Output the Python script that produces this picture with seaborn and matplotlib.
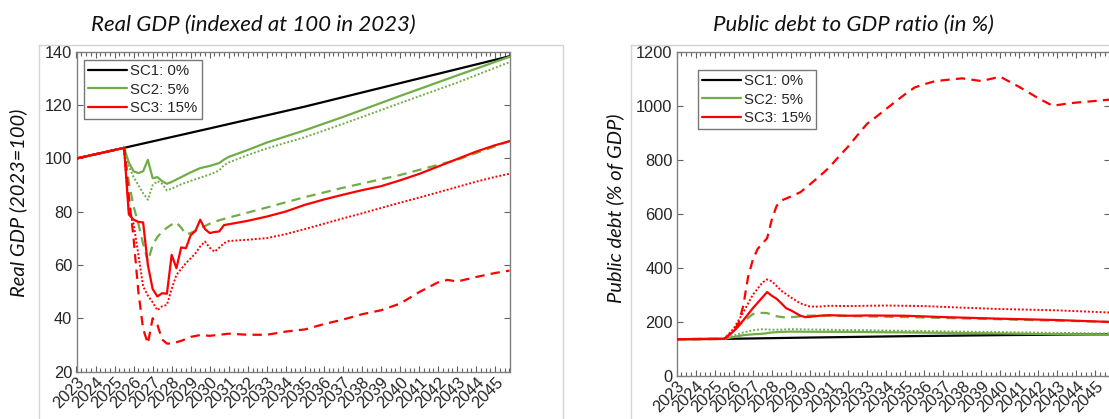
# plot.py - two-panel scenario chart (Real GDP / public debt ratio)

import numpy as np
import pandas as pd
import matplotlib
matplotlib.use("Agg")
import matplotlib.pyplot as plt
from matplotlib.lines import Line2D
from matplotlib.ticker import MultipleLocator
import seaborn as sns

# ---------------- data ----------------
scenario_labels = ["SC1: 0%", "SC2: 5%", "SC3: 15%"]
year_ticks = list(range(2023, 2046))

# Real GDP, 2023 = 100
gdp_sc1_t = [2023, 2025.5, 2030, 2035, 2040, 2045.75]
gdp_sc1 = [100, 104.0, 111.3, 119.5, 128.3, 138.4]

gdp_sc2_t = [2023, 2025.5, 2025.75, 2026, 2026.25, 2026.5, 2026.75, 2027, 2027.25, 2027.5,
             2027.75, 2028, 2028.5, 2029, 2029.5, 2030, 2030.5, 2030.75, 2031, 2032, 2033,
             2035, 2037, 2040, 2043, 2045.75]
gdp_sc2 = [100, 104, 98.5, 95.2, 94.5, 95.2, 99.5, 92.6, 93.0, 91.5,
           90.5, 91.2, 93.0, 94.8, 96.4, 97.2, 98.3, 99.6, 100.6, 103.2, 106.0,
           110.6, 115.6, 123.5, 131.2, 138.2]
gdp_sc2_dotted = [100, 104, 97, 93, 90, 87, 84.5, 90, 91.5, 90.5,
                  88, 88.7, 90.3, 91.6, 92.8, 94, 95.5, 97.5, 98.5, 101.3, 103.8,
                  108, 113, 120.8, 128.5, 136.2]

gdp_sc2_dashed_t = [2023, 2025.5, 2025.75, 2026, 2026.25, 2026.5, 2026.75, 2027, 2027.25,
                    2027.5, 2027.75, 2028, 2028.25, 2028.5, 2028.75, 2029, 2029.5, 2030,
                    2030.5, 2031, 2032, 2033, 2035, 2037, 2040, 2043, 2045.75]
gdp_sc2_dashed = [100, 104, 91, 82, 75.5, 68, 61.3, 67.5, 70.5,
                  72.5, 74, 75.2, 76, 74, 71.5, 72, 73.8, 75.5,
                  76.8, 77.8, 79.7, 81.6, 85.5, 89, 93.8, 99.5, 106.5]

gdp_sc3_t = [2023, 2025.5, 2025.75, 2026, 2026.25, 2026.5, 2026.75, 2027, 2027.25, 2027.5,
             2027.75, 2028, 2028.25, 2028.5, 2028.75, 2029, 2029.25, 2029.5, 2029.75, 2030,
             2030.25, 2030.5, 2030.75, 2031, 2032, 2033, 2034, 2035, 2036, 2037, 2038,
             2039, 2040, 2041, 2042, 2043, 2044, 2045, 2045.75]
gdp_sc3 = [100, 104, 79, 77, 76.2, 76.0, 60, 51, 48.2, 49.4,
           49.2, 63.8, 58.8, 66.6, 66.3, 71.2, 72.8, 77, 73.5, 72,
           72.4, 72.6, 75, 75.3, 76.6, 78.2, 80.1, 82.6, 84.6, 86.4, 88.1,
           89.6, 91.8, 94.2, 97, 99.8, 102.6, 105, 106.5]
gdp_sc3_dotted = [100, 104, 80, 75.5, 64, 52, 48.5, 46, 43, 44.5,
                  45, 51, 56.3, 58.5, 60.7, 62.5, 64.4, 67, 68.8, 66.5,
                  65, 66.5, 68.2, 69.0, 69.5, 70.1, 71.6, 73.5, 75.5, 77.5, 79.4,
                  81.4, 83.4, 85.3, 87.3, 89.3, 91.3, 93.1, 94.3]

gdp_sc3_dashed_t = [2023, 2025.5, 2025.75, 2026, 2026.25, 2026.5, 2026.75, 2027, 2027.25,
                    2027.5, 2027.75, 2028, 2028.5, 2029, 2029.5, 2030, 2031, 2032, 2033,
                    2034, 2035, 2036, 2037, 2038, 2039, 2040, 2041, 2042, 2042.5, 2043,
                    2044, 2045, 2045.75]
gdp_sc3_dashed = [100, 104, 86, 70, 50, 36, 30.5, 40, 37.5,
                  32, 30.5, 30.5, 31.5, 33, 33.7, 33.4, 34.2, 33.8, 33.8,
                  35, 35.8, 37.8, 39.5, 41.5, 43, 45.5, 49.8, 53.5, 54.4, 53.8,
                  55.5, 57, 57.9]

# Public debt, % of GDP
debt_sc1_t = [2023, 2025.5, 2030, 2035, 2040, 2045.75]
debt_sc1 = [135, 136, 141, 146, 150, 153]

debt_sc2_t = [2023, 2025.5, 2026, 2026.5, 2027, 2027.5, 2028, 2028.5, 2029, 2030, 2032,
              2035, 2040, 2045.75]
debt_sc2 = [135, 136, 143, 150, 153, 155, 160, 162, 163, 162.5, 162, 160, 156, 151]
debt_sc2_dotted = [135, 136, 148, 160, 168, 172, 170, 170.5, 172, 171, 169, 166, 161, 156]

debt_sc2_dashed_t = [2023, 2025.5, 2026, 2026.5, 2027, 2027.25, 2027.75, 2028.25, 2028.75,
                     2029.25, 2029.75, 2030.5, 2032, 2035, 2040, 2045.75]
debt_sc2_dashed = [135, 136, 165, 200, 228, 233, 232, 220, 215, 218, 222, 223, 221, 217,
                   209, 199]

debt_sc3_t = [2023, 2025.5, 2026, 2026.5, 2027, 2027.5, 2027.75, 2028, 2028.25, 2028.5,
              2028.75, 2029, 2029.25, 2029.5, 2029.75, 2030, 2030.5, 2031, 2032, 2033,
              2035, 2037, 2040, 2043, 2045.75]
debt_sc3 = [135, 136, 165, 205, 250, 290, 310, 296, 285, 268,
            250, 242, 232, 222, 217, 218, 222, 224, 222, 223,
            222, 217, 211, 206, 199]

debt_sc3_dotted_t = [2023, 2025.5, 2026, 2026.5, 2027, 2027.5, 2027.75, 2028, 2028.5, 2029,
                     2029.5, 2030, 2030.5, 2031, 2032, 2034, 2036, 2038, 2040, 2043,
                     2045.75]
debt_sc3_dotted = [135, 136, 175, 235, 300, 345, 357, 350, 315, 290,
                   268, 256, 256, 259, 258, 260, 258, 252, 247, 242, 234]

debt_sc3_dashed_t = [2023, 2025.5, 2026, 2026.25, 2026.5, 2026.75, 2027, 2027.25, 2027.5,
                     2027.75, 2028, 2028.25, 2028.5, 2029, 2029.5, 2030, 2030.5, 2031,
                     2031.5, 2032, 2032.5, 2033, 2033.5, 2034, 2034.5, 2035, 2035.5, 2036,
                     2036.5, 2037, 2038, 2039, 2040, 2041, 2042, 2042.75, 2043.5, 2044,
                     2045, 2045.75]
debt_sc3_dashed = [135, 136, 165, 195, 260, 366, 430, 470, 490,
                   510, 580, 630, 650, 665, 681, 710, 740, 772,
                   812, 850, 893, 935, 962, 990, 1018, 1045, 1070, 1082,
                   1092, 1097, 1104, 1094, 1110, 1072, 1030, 1002, 1010, 1014,
                   1020, 1025]

# ---------------- style ----------------
BLACK = "#000000"
GREEN = "#70AD47"
RED = "#FF0000"

sns.set_theme(style="white")
plt.rcParams["font.family"] = ["Liberation Sans", "DejaVu Sans"]
title_font = ["Lato", "DejaVu Sans"]

W, H = 1109, 419
fig = plt.figure(figsize=(W / 100, H / 100), dpi=100)
fig.patch.set_facecolor("white")


def px_box(left, top, right, bottom):
    return [left / W, 1 - bottom / H, (right - left) / W, (bottom - top) / H]


# faint borders of the two pasted screenshots
for x0, x1 in [(39, 563), (631, 1109)]:
    fig.add_artist(Line2D([x0 / W, x1 / W], [1 - 45 / H, 1 - 45 / H], color="#d4d4d4", lw=1))
    fig.add_artist(Line2D([x0 / W, x0 / W], [0, 1 - 45 / H], color="#d4d4d4", lw=1))
fig.add_artist(Line2D([563 / W, 563 / W], [0, 1 - 45 / H], color="#d4d4d4", lw=1))

ax1 = fig.add_axes(px_box(76.5, 52, 509.5, 371.5))
ax2 = fig.add_axes(px_box(676.7, 52.5, 1109.7, 375.5))


def draw(ax, t, v, color, ls, lw=1.6, label=None):
    df = pd.DataFrame({"t": t, "v": v})
    sns.lineplot(data=df, x="t", y="v", ax=ax, color=color, linestyle=ls, linewidth=lw,
                 label=label, legend=False, sort=False, zorder=3)


dash = (0, (4.2, 2.8))
dot = (0, (1, 1))

# GDP panel
draw(ax1, gdp_sc1_t, gdp_sc1, BLACK, "-", label=scenario_labels[0])
draw(ax1, gdp_sc2_t, gdp_sc2_dotted, GREEN, dot, lw=1.4)
draw(ax1, gdp_sc2_dashed_t, gdp_sc2_dashed, GREEN, dash)
draw(ax1, gdp_sc2_t, gdp_sc2, GREEN, "-", label=scenario_labels[1])
draw(ax1, gdp_sc3_dashed_t, gdp_sc3_dashed, RED, dash)
draw(ax1, gdp_sc3_t, gdp_sc3_dotted, RED, dot, lw=1.4)
draw(ax1, gdp_sc3_t, gdp_sc3, RED, "-", label=scenario_labels[2])

# Debt panel
draw(ax2, debt_sc1_t, debt_sc1, BLACK, "-", label=scenario_labels[0])
draw(ax2, debt_sc2_t, debt_sc2_dotted, GREEN, dot, lw=1.4)
draw(ax2, debt_sc2_dashed_t, debt_sc2_dashed, GREEN, dash)
draw(ax2, debt_sc2_t, debt_sc2, GREEN, "-", label=scenario_labels[1])
draw(ax2, debt_sc3_dotted_t, debt_sc3_dotted, RED, dot, lw=1.4)
draw(ax2, debt_sc3_t, debt_sc3, RED, "-", label=scenario_labels[2])
draw(ax2, debt_sc3_dashed_t, debt_sc3_dashed, RED, dash)

for ax, ylim, ystep in [(ax1, (20, 140), 20), (ax2, (0, 1200), 200)]:
    ax.set_xlim(2023, 2045.75)
    ax.set_ylim(*ylim)
    ax.yaxis.set_major_locator(MultipleLocator(ystep))
    ax.set_xticks(year_ticks)
    ax.set_xticklabels([str(y) for y in year_ticks], rotation=45, ha="right",
                       rotation_mode="anchor")
    ax.xaxis.set_minor_locator(MultipleLocator(0.25))
    ax.tick_params(axis="both", which="both", direction="in", bottom=True, left=True,
                   top=True, right=True, colors="#606060", labelcolor="#262626",
                   labelsize=11.8, width=0.8)
    ax.tick_params(axis="both", which="major", length=4.5, pad=3)
    ax.tick_params(axis="x", which="minor", length=3)
    ax.tick_params(axis="x", which="major", pad=2)
    for s in ax.spines.values():
        s.set_color("#808080")
        s.set_linewidth(1)
    ax.set_xlabel("")
    ax.set_ylabel("")
    ax.grid(False)

for ax, anchor in [(ax1, (0.017, 0.975)), (ax2, (0.049, 0.946))]:
    leg = ax.legend(loc="upper left", bbox_to_anchor=anchor, borderaxespad=0,
                    fontsize=10.8, frameon=True, fancybox=False, edgecolor="#555555",
                    handlelength=2.6, handletextpad=0.2, labelspacing=0.28, borderpad=0.3)
    leg.get_frame().set_linewidth(1)
    for t in leg.get_texts():
        t.set_color("#262626")

# titles and axis labels (italic, placed like the reference)
fig.text(253 / W, 1 - 25 / H, "Real GDP (indexed at 100 in 2023)", ha="center", va="center",
         fontsize=16, style="italic", family=title_font, color="#111111")
fig.text(853 / W, 1 - 25 / H, "Public debt to GDP ratio (in %)", ha="center", va="center",
         fontsize=16, style="italic", family=title_font, color="#111111")
fig.text(18 / W, 1 - 203 / H, "Real GDP (2023=100)", ha="center", va="center", rotation=90,
         fontsize=14.5, style="italic", family=title_font, color="#111111")
fig.text(615 / W, 1 - 208 / H, "Public debt (% of GDP)", ha="center", va="center",
         rotation=90, fontsize=14.5, style="italic", family=title_font, color="#111111")

fig.savefig("out.png", dpi=100, facecolor="white")
